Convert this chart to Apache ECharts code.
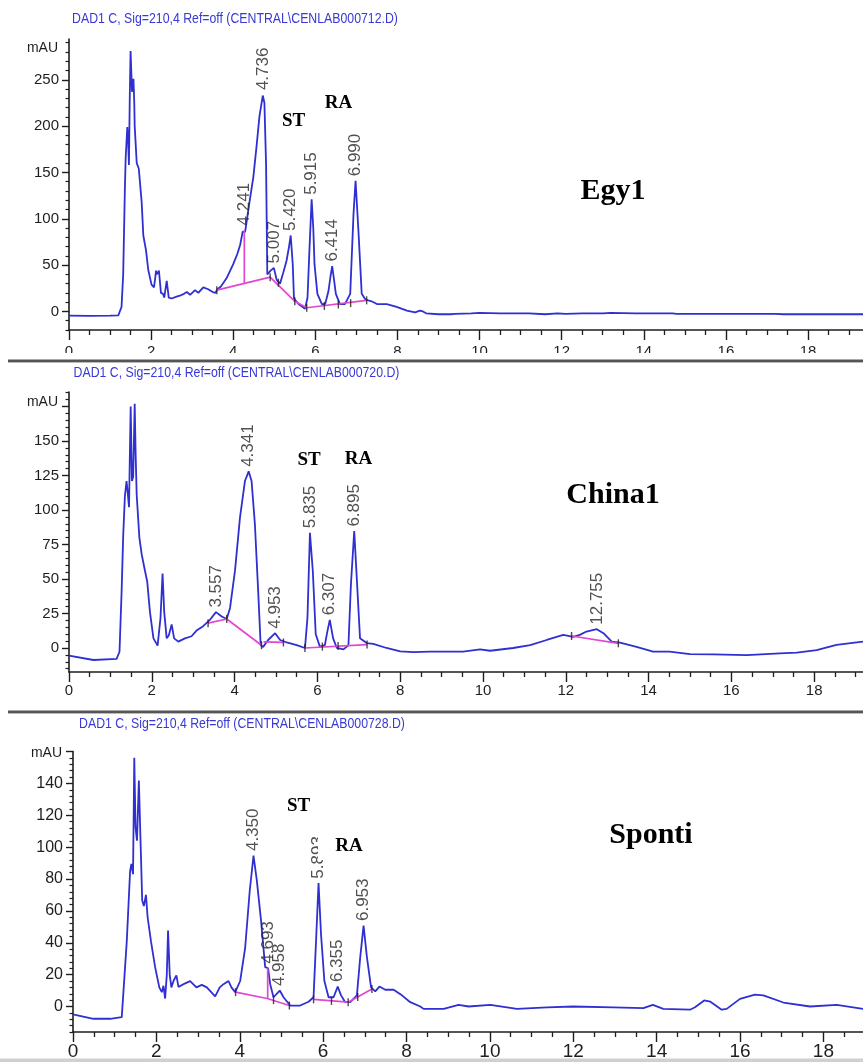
<!DOCTYPE html>
<html><head><meta charset="utf-8">
<script src="https://cdn.jsdelivr.net/npm/echarts@6/dist/echarts.min.js"></script>
<style>html,body{margin:0;padding:0;background:#fff}#c{width:863px;height:1062px}</style>
</head><body><div id="c"></div>
<script>
// ---------- DATA ----------
const egy1Time = [0,0.5,1.0,1.2,1.28,1.32,1.36,1.38,1.42,1.44,1.46,1.48,1.50,1.52,1.535,1.55,1.57,1.59,1.60,1.65,1.70,1.77,1.81,1.876,1.93,2.01,2.07,2.10,2.12,2.14,2.16,2.19,2.24,2.29,2.32,2.38,2.43,2.50,2.53,2.62,2.70,2.80,2.87,2.95,3.07,3.15,3.27,3.39,3.50,3.56,3.62,3.70,3.84,4.00,4.10,4.17,4.23,4.26,4.29,4.35,4.41,4.49,4.57,4.64,4.72,4.76,4.80,4.83,4.87,4.91,4.99,5.06,5.14,5.22,5.30,5.36,5.40,5.45,5.48,5.59,5.75,5.81,5.86,5.91,5.95,5.98,6.05,6.16,6.24,6.32,6.37,6.41,6.45,6.50,6.60,6.72,6.85,6.93,6.98,7.05,7.13,7.22,7.29,7.37,7.50,7.74,7.98,8.23,8.43,8.55,8.62,8.7,9.0,9.3,9.4,9.8,10.0,10.5,11.2,11.6,11.9,12.1,12.5,13.0,13.2,13.8,14.7,14.8,16.0,17.2,17.4,18.5,19.4];
const egy1Abs = [-4.5,-4.8,-4.5,-4.3,5,40,130,165,199,185,158,230,281,255,237,245,251,225,200,160,154,118,82,66,45,29,26,36,44,40,39,44,20,19,15,33,15,14,16,16,17,19,21,18,23,20,26,24,21,20,24,27,36,51,62,72,86,88,86,104,122,145,179,211,233,225,159,40,40,44,47,34,30,42,55,70,82,51,14,8,3,15,70,121,90,51,19,8,8,22,38,49,36,19,8,8,19,105,141,87,19,13,12,11,8,8,5,1,-1,1,0,-2,-3,-3,-2.5,-2,-1.5,-2,-2,-3,-2,-2.5,-2,-2,-1.5,-2,-2,-2.5,-2.5,-2.5,-3,-3,-3];
const egy1PeakLabels = ['4.241','4.736','5.007','5.420','5.915','6.414','6.990'];
const egy1PeakTime   = [4.26,4.73,5.00,5.40,5.91,6.41,6.98];
const egy1PeakAbs    = [88,234,47,82,121,49,141];
const egy1BaseSegments = [
  [[3.60,23],[4.90,37],[5.50,11],[5.79,4],[7.25,12]],
  [[4.27,30],[4.27,87]]
];
const egy1IntTicks = [[3.60,23],[4.90,37],[5.10,31],[5.50,11],[5.79,4],[6.22,6],[6.56,7.5],[6.86,9],[7.25,12]];

const china1Time = [0,0.59,1.15,1.22,1.27,1.31,1.35,1.39,1.42,1.45,1.47,1.49,1.52,1.55,1.587,1.61,1.635,1.70,1.755,1.835,1.89,1.956,2.04,2.14,2.21,2.26,2.30,2.36,2.41,2.48,2.54,2.64,2.80,2.96,3.08,3.24,3.41,3.55,3.69,3.81,3.89,4.01,4.13,4.25,4.34,4.41,4.49,4.57,4.63,4.69,4.81,4.98,5.10,5.26,5.50,5.70,5.76,5.82,5.89,5.96,6.06,6.18,6.24,6.30,6.38,6.47,6.63,6.75,6.81,6.89,6.96,7.03,7.19,7.35,7.67,8.0,8.32,8.72,9.52,9.93,10.17,10.73,11.14,11.54,11.94,12.18,12.34,12.50,12.75,12.91,13.11,13.31,13.71,14.11,14.51,15.0,15.56,16.37,17.17,17.58,18.06,18.54,19.18];
const china1Abs = [-5.6,-8.7,-7.9,-2.7,40,82,110,121,112,102,140,175,121,124,177,140,111,80,68,56,48,26,7,1.7,21.6,54,26,7,9,17,7,4.6,7,8.5,12.6,15.8,20.6,26,22.8,21,29,56,94.5,121,128,121,90,41,2,0.8,5.8,10.7,5.8,4,2,0,21.6,83.5,55.6,10,1,2,11.9,20.4,7,0,-1,2,46,84.7,46,7,3.6,3,0,-2.4,-3,-2.7,-2.7,-1,-2,0,2,5.8,9.5,8,9.5,11.9,13.6,10.7,4.6,3.9,0.8,-2.7,-2.7,-4.4,-4.6,-5.1,-3.9,-3.4,-1.5,2.2,4.6];
const china1PeakLabels = ['3.557','4.341','4.953','5.835','6.307','6.895','12.755'];
const china1PeakTime   = [3.55,4.34,4.98,5.82,6.30,6.89,12.75];
const china1PeakAbs    = [26,128,10.7,83.5,20.4,84.7,13.6];
const china1BaseSegments = [
  [[3.36,18],[3.81,21],[4.65,2]],
  [[4.70,4.5],[5.18,4]],
  [[5.70,0],[7.20,2.5]],
  [[12.14,8.7],[13.27,3.4]]
];
const china1IntTicks = [[3.36,18],[3.81,21],[4.65,2],[5.18,4],[5.70,0],[6.12,1],[6.50,1.5],[7.20,2.5],[12.14,8.7],[13.27,3.4]];

const spontiTime = [0,0.49,0.89,1.17,1.21,1.29,1.37,1.40,1.44,1.47,1.50,1.535,1.58,1.62,1.66,1.70,1.75,1.79,1.87,1.97,2.07,2.13,2.17,2.21,2.25,2.28,2.32,2.36,2.41,2.48,2.53,2.65,2.81,2.96,3.09,3.21,3.41,3.52,3.61,3.73,3.80,3.89,4.01,4.13,4.24,4.33,4.41,4.51,4.61,4.68,4.73,4.81,4.96,5.05,5.21,5.45,5.65,5.77,5.83,5.89,5.95,6.03,6.13,6.25,6.35,6.43,6.53,6.65,6.81,6.89,6.97,7.05,7.15,7.25,7.35,7.49,7.69,7.89,8.09,8.33,8.41,8.57,8.89,9.25,9.49,10.01,10.65,11.37,12.0,12.96,13.68,13.91,14.16,14.80,14.92,15.14,15.29,15.56,15.68,16.00,16.36,16.56,17.04,17.68,18.32,18.95];
const spontiAbs = [-5,-7.7,-7.7,-6.7,-5.6,41,85,89.5,83,156,112.5,104,141.8,104,66.5,63,70,56,41,24.7,12,9,13,5,20,47.7,20,12,16,19.5,12.3,14,15.9,12,13.6,12,6.3,12,14,16,12,9,16,37,72.8,94.7,79,54,24.7,24,14,5.8,10,5.8,0.6,0.6,3,5.8,41,77.4,45,16,5.8,5.8,12.5,7,2.7,2.7,7,31,50.8,31,12,9.5,12.5,10.5,10.5,7,2.7,0,-1.5,-1.5,-1.5,1,0,1,-1.5,-0.5,0,-0.5,-1,1,-1.5,-2,-0.5,3.8,3,-2,-1.5,4.8,7.5,7,2.5,0,1,-1.5];
const spontiPeakLabels = ['4.350','4.693','4.958','5.893','6.355','6.953'];
const spontiPeakTime   = [4.33,4.68,4.96,5.89,6.35,6.97];
const spontiPeakAbs    = [94.7,24,10,77.4,12.5,50.8];
const spontiBaseSegments = [
  [[3.90,9],[4.66,5],[5.19,0.6]],
  [[4.67,5],[4.67,24]],
  [[5.77,4.5],[6.60,2.7],[7.17,11]]
];
const spontiIntTicks = [[3.90,9],[4.81,4],[5.19,0.6],[5.77,4.5],[6.20,3.5],[6.60,2.7],[6.83,6],[7.17,11]];

// tick values
const xMajorTicks = [0,2,4,6,8,10,12,14,16,18];
const xMinorTicks = [0.5,1,1.5,2.5,3,3.5,4.5,5,5.5,6.5,7,7.5,8.5,9,9.5,10.5,11,11.5,12.5,13,13.5,14.5,15,15.5,16.5,17,17.5,18.5,19];
const egy1YLabels = [0,50,100,150,200,250];
const egy1YMajor = [0,50,100,150,200,250];
const egy1YMinor = [-20,-10,10,20,30,40,60,70,80,90,110,120,130,140,160,170,180,190,210,220,230,240,260,270,280,290];
const china1YLabels = [0,25,50,75,100,125,150];
const china1YMajor = [0,25,50,75,100,125,150,175];
const china1YMinor = [-15,-10,-5,5,10,15,20,30,35,40,45,55,60,65,70,80,85,90,95,105,110,115,120,130,135,140,145,155,160,165,170,180,185];
const spontiYLabels = [0,20,40,60,80,100,120,140];
const spontiYMajor = [0,20,40,60,80,100,120,140,160];
const spontiYMinor = [-16,-12,-8,-4,4,8,12,16,24,28,32,36,44,48,52,56,64,68,72,76,84,88,92,96,104,108,112,116,124,128,132,136,144,148,152,156];

// ---------- LAYOUT / STYLE ----------
const NARROW = "'Liberation Sans Narrow','Arial Narrow','Liberation Sans',Arial,sans-serif";
const SANS = "'Liberation Sans',Arial,sans-serif";
const BLUE = '#2f2fd2', MAG = '#e246d2', AX = '#1e1e1e';

const panels = [
  {time: egy1Time, abs: egy1Abs, pl: egy1PeakLabels, pt: egy1PeakTime, pa: egy1PeakAbs, base: egy1BaseSegments, ticks: egy1IntTicks,
   grid: {left:69, top:39, width:794, height:291}, xr:[0,19.34], yr:[-20,294],
   yLab: egy1YLabels, yMaj: egy1YMajor, yMin: egy1YMinor, xMinor: xMinorTicks, xFont:15, xMargin:14, yFont:15},
  {time: china1Time, abs: china1Abs, pl: china1PeakLabels, pt: china1PeakTime, pa: china1PeakAbs, base: china1BaseSegments, ticks: china1IntTicks,
   grid: {left:69, top:392, width:794, height:280}, xr:[0,19.18], yr:[-17.4,185.5],
   yLab: china1YLabels, yMaj: china1YMajor, yMin: china1YMinor, xMinor: xMinorTicks, xFont:15, xMargin:11, yFont:15},
  {time: spontiTime, abs: spontiAbs, pl: spontiPeakLabels, pt: spontiPeakTime, pa: spontiPeakAbs, base: spontiBaseSegments, ticks: spontiIntTicks,
   grid: {left:73, top:751.5, width:790, height:280.5}, xr:[0,18.95], yr:[-16,160],
   yLab: spontiYLabels, yMaj: spontiYMajor, yMin: spontiYMinor, xMinor: xMinorTicks.filter(v=>v<18.95), xFont:19, xMargin:10, yFont:16}
];

const grid = [], xAxis = [], yAxis = [], series = [];
panels.forEach((p, i) => {
  grid.push(Object.assign({outerBoundsMode:'none', containLabel:false}, p.grid));
  xAxis.push({type:'value', gridIndex:i, min:p.xr[0], max:p.xr[1], position:'bottom',
    axisLine:{show:true, onZero:false, lineStyle:{color:AX, width:1.6}},
    axisTick:{show:true, customValues:xMajorTicks, length:10, lineStyle:{color:AX, width:1.4}},
    axisLabel:{show:true, customValues:xMajorTicks, fontSize:p.xFont, fontFamily:NARROW, color:AX, margin:p.xMargin},
    splitLine:{show:false}});
  xAxis.push({type:'value', gridIndex:i, min:p.xr[0], max:p.xr[1], position:'bottom', offset:0,
    axisLine:{show:false, onZero:false},
    axisTick:{show:true, customValues:p.xMinor, length:5, lineStyle:{color:AX, width:1.3}},
    axisLabel:{show:false}, splitLine:{show:false}});
  yAxis.push({type:'value', gridIndex:i, min:p.yr[0], max:p.yr[1], position:'left',
    axisLine:{show:true, onZero:false, lineStyle:{color:AX, width:1.6}},
    axisTick:{show:true, customValues:p.yMaj, length:7, lineStyle:{color:AX, width:1.4}},
    axisLabel:{show:true, customValues:p.yLab, fontSize:p.yFont, fontFamily:NARROW, color:AX, margin:10},
    splitLine:{show:false}});
  yAxis.push({type:'value', gridIndex:i, min:p.yr[0], max:p.yr[1], position:'left', offset:0,
    axisLine:{show:false, onZero:false},
    axisTick:{show:true, customValues:p.yMin, length:3.5, lineStyle:{color:AX, width:1.2}},
    axisLabel:{show:false}, splitLine:{show:false}});

  const xi = 2*i, yi = 2*i;
  series.push({type:'line', xAxisIndex:xi, yAxisIndex:yi, showSymbol:false, symbol:'none', z:3,
    lineStyle:{color:BLUE, width:1.8}, data:p.time.map((t,k)=>[t,p.abs[k]])});
  p.base.forEach(seg => series.push({type:'line', xAxisIndex:xi, yAxisIndex:yi, showSymbol:false, symbol:'none', z:4,
    lineStyle:{color:MAG, width:1.7}, data:seg}));
  series.push({type:'scatter', xAxisIndex:xi, yAxisIndex:yi, symbol:'rect', symbolSize:[1.4,8], z:5,
    itemStyle:{color:AX}, data:p.ticks});
  series.push({type:'scatter', xAxisIndex:xi, yAxisIndex:yi, symbolSize:1, z:6, clip:false,
    itemStyle:{color:'rgba(0,0,0,0)'},
    label:{show:true, position:'top', distance:4, rotate:90, align:'left', verticalAlign:'middle',
      fontFamily:SANS, fontSize:17, color:'#262626', formatter:(d)=>d.name},
    data:p.pt.map((t,k)=>({name:p.pl[k], value:[t,p.pa[k]]}))});
});

function txt(text, x, y, font, fill, sx, z){
  return {type:'text', x:x, y:y, scaleX:sx||1, z:z||60,
    style:{text:text, font:font, fill:fill, align:'center', verticalAlign:'middle', textAlign:'center', textVerticalAlign:'middle'}};
}
function txtR(text, x, y, font, fill){
  return {type:'text', x:x, y:y, z:60,
    style:{text:text, font:font, fill:fill, align:'right', verticalAlign:'middle', textAlign:'right', textVerticalAlign:'middle'}};
}
function rect(x,y,w,h,fill,z){ return {type:'rect', shape:{x:x,y:y,width:w,height:h}, style:{fill:fill}, z:z||50}; }

const TITLEC = '#3838d6';
const titleFont = "15px 'Liberation Sans', Arial, sans-serif";
const tagFont = "bold 19px 'Liberation Serif','Times New Roman',serif";
const nameFont = "bold 30px 'Liberation Serif','Times New Roman',serif";
const mauFont = "14px " + NARROW;

const graphic = [
  rect(0,353,863,6.5,'#fff',50),
  rect(8,359.5,855,2.5,'#555',51),
  rect(8,362,855,1,'#bbb',51),
  rect(8,710.5,855,2.5,'#555',51),
  rect(8,713,855,1,'#bbb',51),
  rect(0,1058.5,863,3.5,'#d0d0d0',51),
  rect(318,815,57,45,'#fff',55),
  txt('DAD1 C, Sig=210,4 Ref=off (CENTRAL\\CENLAB000712.D)', 235, 18.5, titleFont, TITLEC, 0.82),
  txt('DAD1 C, Sig=210,4 Ref=off (CENTRAL\\CENLAB000720.D)', 236.5, 372.5, titleFont, TITLEC, 0.82),
  txt('DAD1 C, Sig=210,4 Ref=off (CENTRAL\\CENLAB000728.D)', 242, 724, titleFont, TITLEC, 0.82),
  txtR('mAU', 58, 48.5, mauFont, AX),
  txtR('mAU', 58, 402, mauFont, AX),
  txtR('mAU', 62, 753.5, mauFont, AX),
  txt('ST', 293.5, 121.5, tagFont, '#000'),
  txt('RA', 338.5, 103, tagFont, '#000'),
  txt('ST', 309, 460.5, tagFont, '#000'),
  txt('RA', 358.5, 459.5, tagFont, '#000'),
  txt('ST', 298.5, 806.5, tagFont, '#000'),
  txt('RA', 349, 846.5, tagFont, '#000'),
  txt('Egy1', 613, 191, nameFont, '#000'),
  txt('China1', 613, 495, nameFont, '#000'),
  txt('Sponti', 651, 835, nameFont, '#000')
];

const chart = echarts.init(document.getElementById('c'), null, {renderer:'canvas'});
chart.setOption({animation:false, backgroundColor:'#fff', grid, xAxis, yAxis, series, graphic});
</script></body></html>
